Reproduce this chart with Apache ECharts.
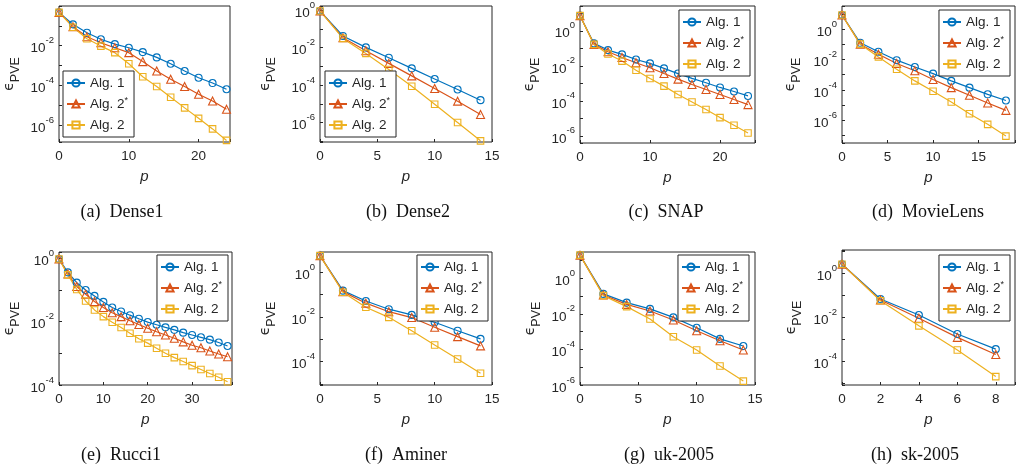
<!DOCTYPE html>
<html>
<head>
<meta charset="utf-8">
<script src="https://cdn.jsdelivr.net/npm/echarts@6/dist/echarts.min.js"></script>
<style>
  html, body { margin: 0; padding: 0; background: #fff; }
  #chart { width: 1018px; height: 471px; }
</style>
</head>
<body>
<div id="chart"></div>
<script>
// Legend names shared by every panel
const seriesNames = ['Alg. 1', 'Alg. 2*', 'Alg. 2'];

// Panel captions
const captions = ['(a)\u2002Dense1', '(b)\u2002Dense2', '(c)\u2002SNAP', '(d)\u2002MovieLens',
                  '(e)\u2002Rucci1', '(f)\u2002Aminer', '(g)\u2002uk-2005', '(h)\u2002sk-2005'];

// (a) Dense1
const pA = [0, 2, 4, 6, 8, 10, 12, 14, 16, 18, 20, 22, 24];
const alg1A = [0.47, 0.118, 0.045, 0.021, 0.012, 0.0079, 0.0048, 0.0026, 0.00125, 5.4e-4, 2.5e-4, 1.35e-4, 6.6e-5];
const alg2sA = [0.47, 0.09, 0.028, 0.014, 0.0079, 0.0045, 0.0016, 5.4e-4, 2.1e-4, 9.1e-5, 3.7e-5, 1.7e-5, 6.6e-6];
const alg2A = [0.47, 0.085, 0.0224, 0.0096, 0.0045, 0.00125, 2.8e-4, 9.1e-5, 2.6e-5, 7.7e-6, 2.3e-6, 6.8e-7, 1.8e-7];

// (b) Dense2
const pB = [0, 2, 4, 6, 8, 10, 12, 14];
const alg1B = [0.91, 0.042, 0.0103, 0.0029, 7.8e-4, 2.1e-4, 5.8e-5, 1.56e-5];
const alg2sB = [0.91, 0.034, 0.0068, 0.00144, 3.1e-4, 6.6e-5, 1.38e-5, 2.7e-6];
const alg2B = [0.91, 0.031, 0.0049, 6.8e-4, 8.7e-5, 9.5e-6, 1.0e-6, 1.05e-7];

// (c) SNAP
const pC = [0, 2, 4, 6, 8, 10, 12, 14, 16, 18, 20, 22, 24];
const alg1C = [7.3, 0.19, 0.079, 0.045, 0.023, 0.0137, 0.0071, 0.0036, 0.0019, 0.00107, 5.8e-4, 3.4e-4, 1.9e-4];
const alg2sC = [7.3, 0.167, 0.063, 0.030, 0.0149, 0.0077, 0.0036, 0.00173, 8.5e-4, 4.4e-4, 2.3e-4, 1.18e-4, 6.1e-5];
const alg2C = [7.3, 0.167, 0.047, 0.0186, 0.0056, 0.0019, 6.9e-4, 2.3e-4, 8.6e-5, 3.2e-5, 1.1e-5, 4.0e-6, 1.45e-6];

// (d) MovieLens
const pD = [0, 2, 4, 6, 8, 10, 12, 14, 16, 18];
const alg1D = [8.4, 0.125, 0.032, 0.0090, 0.0032, 0.00118, 3.9e-4, 1.4e-4, 5.1e-5, 2.0e-5];
const alg2sD = [8.4, 0.102, 0.022, 0.0054, 0.0018, 4.8e-4, 1.4e-4, 4.4e-5, 1.37e-5, 4.5e-6];
const alg2D = [8.4, 0.102, 0.0148, 0.0023, 3.9e-4, 8.1e-5, 1.6e-5, 2.7e-6, 5.4e-7, 9.1e-8];

// (e) Rucci1
const pE = [0, 2, 4, 6, 8, 10, 12, 14, 16, 18, 20, 22, 24, 26, 28, 30, 32, 34, 36, 38];
const alg1E = [0.95, 0.36, 0.17, 0.10, 0.065, 0.042, 0.028, 0.021, 0.016, 0.0124, 0.0097, 0.0080, 0.0066, 0.0055, 0.0045, 0.0038, 0.0032, 0.0027, 0.0022, 0.0017];
const alg2sE = [0.95, 0.32, 0.128, 0.073, 0.043, 0.028, 0.019, 0.0144, 0.0107, 0.0081, 0.0062, 0.0048, 0.0038, 0.0030, 0.0023, 0.0018, 0.0015, 0.00118, 9.5e-4, 7.8e-4];
const alg2E = [0.95, 0.30, 0.104, 0.045, 0.0234, 0.0144, 0.0096, 0.0065, 0.0043, 0.0029, 0.0021, 0.00144, 1.0e-3, 7.3e-4, 5.5e-4, 4.1e-4, 3.1e-4, 2.3e-4, 1.75e-4, 1.27e-4];

// (f) Aminer
const pF = [0, 2, 4, 6, 8, 10, 12, 14];
const alg1F = [5.5, 0.149, 0.051, 0.022, 0.0122, 0.0057, 0.0024, 0.00103];
const alg2sF = [5.5, 0.135, 0.041, 0.017, 0.0093, 0.0034, 0.0013, 5.0e-4];
const alg2F = [5.5, 0.126, 0.027, 0.0095, 0.0024, 5.5e-4, 1.3e-4, 3.0e-5];

// (g) uk-2005
const pG = [0, 2, 4, 6, 8, 10, 12, 14];
const alg1G = [20, 0.132, 0.043, 0.019, 0.0063, 0.00166, 3.9e-4, 1.55e-4];
const alg2sG = [20, 0.115, 0.034, 0.0145, 0.0045, 0.00113, 3.1e-4, 9.3e-5];
const alg2G = [20, 0.106, 0.0255, 0.0051, 5.2e-4, 9.3e-5, 1.17e-5, 1.66e-6];

// (h) sk-2005
const pH = [0, 2, 4, 6, 8];
const alg1H = [2.5, 0.066, 0.0124, 0.0017, 3.5e-4];
const alg2sH = [2.5, 0.059, 0.0088, 0.0012, 2.0e-4];
const alg2H = [2.5, 0.055, 0.0040, 3.2e-4, 2.0e-5];

// Axis limits per panel: x [0, max] with tick step, y log range
const xMax = [24.5, 15, 25, 19, 39, 15, 15, 9];
const xStep = [10, 5, 10, 5, 10, 5, 5, 2];
const yMin = [1.5e-7, 9.1e-8, 3.9e-7, 3.2e-8, 1e-4, 8.9e-6, 1e-6, 8.3e-6];
const yMax = [0.98, 1.67, 26, 33, 1.58, 8.0, 30, 11];

const xs = [pA, pB, pC, pD, pE, pF, pG, pH];
const ys = [
  [alg1A, alg2sA, alg2A], [alg1B, alg2sB, alg2B], [alg1C, alg2sC, alg2C], [alg1D, alg2sD, alg2D],
  [alg1E, alg2sE, alg2E], [alg1F, alg2sF, alg2F], [alg1G, alg2sG, alg2G], [alg1H, alg2sH, alg2H]
];

// Plot boxes, legend anchors, label gaps and caption centres
const layout = [
  { box: [59, 6, 171, 136],   legend: { left: 63, top: 71 },   yGap: 37, cap: [122, 212] },
  { box: [320, 6, 172, 136],  legend: { left: 325, top: 71 },  yGap: 42, cap: [408, 212] },
  { box: [580, 6, 175, 137],  legend: { right: 268, top: 10 }, yGap: 38, cap: [666, 212] },
  { box: [842, 6, 173, 137],  legend: { right: 8, top: 10 },   yGap: 39, cap: [928, 212] },
  { box: [59, 252, 173, 133], legend: { right: 790, top: 255 }, yGap: 37, cap: [121, 455] },
  { box: [320, 252, 172, 133], legend: { right: 530, top: 255 }, yGap: 42, cap: [406, 455] },
  { box: [580, 252, 175, 133], legend: { right: 269, top: 255 }, yGap: 37, cap: [669, 455] },
  { box: [842, 250, 173, 135], legend: { right: 8, top: 255 },  yGap: 38, cap: [915, 455] }
];

const colors = ['#0072BD', '#D95319', '#EDB120'];
const symbols = ['circle', 'triangle', 'rect'];
const symbolSizes = [7, 8, 6.5];
const ink = '#262626';
const sans = '"Liberation Sans", Arial, sans-serif';

function logLabel(v) {
  const e = Math.log10(v);
  const r = Math.round(e);
  if (Math.abs(e - r) > 1e-6 || r % 2 !== 0) return '';
  return '{b|10}{s|' + r + '}';
}

const grid = [], xAxis = [], yAxis = [], series = [], legend = [], graphic = [];

layout.forEach((L, i) => {
  grid.push({
    left: L.box[0], top: L.box[1], width: L.box[2], height: L.box[3],
    show: true, borderColor: ink, borderWidth: 1, backgroundColor: '#fff',
    containLabel: false, outerBoundsMode: 'none'
  });
  const step = xStep[i];
  xAxis.push({
    type: 'value', gridIndex: i, min: 0, max: xMax[i], interval: step,
    axisLine: { show: false }, splitLine: { show: false },
    axisTick: { show: true, inside: true, length: 3, lineStyle: { color: ink } },
    axisLabel: {
      margin: 7, color: ink, fontSize: 13.5, fontFamily: sans,
      formatter: v => (Math.abs(v / step - Math.round(v / step)) < 1e-9 ? String(v) : '')
    },
    name: 'p', nameLocation: 'middle', nameGap: 27,
    nameTextStyle: { color: ink, fontSize: 15, fontStyle: 'italic', fontFamily: sans }
  });
  yAxis.push({
    type: 'log', logBase: 10, gridIndex: i, min: yMin[i], max: yMax[i],
    axisLine: { show: false }, splitLine: { show: false }, minorTick: { show: false },
    axisTick: { show: true, inside: true, length: 3, lineStyle: { color: ink } },
    axisLabel: {
      margin: 5, color: ink, fontFamily: sans, formatter: logLabel,
      rich: {
        b: { fontSize: 13.5, fontFamily: sans, color: ink, lineHeight: 20, verticalAlign: 'bottom' },
        s: { fontSize: 9.5, fontFamily: sans, color: ink, lineHeight: 11, verticalAlign: 'top' }
      }
    },
    name: '{e|\u03f5}{s|PVE}', nameLocation: 'middle', nameGap: L.yGap, nameRotate: 90,
    nameTextStyle: {
      color: ink,
      rich: {
        e: { fontSize: 14, fontFamily: '"DejaVu Sans", sans-serif', color: ink, lineHeight: 20, verticalAlign: 'top' },
        s: { fontSize: 12.5, fontFamily: sans, color: ink, lineHeight: 14, verticalAlign: 'bottom' }
      }
    }
  });
  ys[i].forEach((vals, k) => {
    series.push({
      type: 'line', name: seriesNames[k], xAxisIndex: i, yAxisIndex: i,
      data: xs[i].map((p, j) => [p, vals[j]]),
      symbol: symbols[k], symbolSize: symbolSizes[k], showSymbol: true,
      lineStyle: { color: colors[k], width: 1.2 },
      itemStyle: { color: 'rgba(255,255,255,0)', borderColor: colors[k], borderWidth: 1.1 },
      emphasis: { disabled: true }, animation: false, silent: true
    });
  });
  legend.push(Object.assign({
    orient: 'vertical', data: seriesNames.slice(),
    backgroundColor: '#fff', borderColor: ink, borderWidth: 1, borderRadius: 0,
    padding: [4, 6, 4, 3], itemWidth: 18, itemHeight: 9, itemGap: 5,
    selectedMode: false,
    formatter: name => (name === 'Alg. 2*' ? 'Alg. 2{sup|*}' : name),
    textStyle: {
      color: ink, fontSize: 13.5, fontFamily: sans, lineHeight: 16,
      rich: { sup: { fontSize: 9, fontFamily: sans, color: ink, lineHeight: 10, verticalAlign: 'top' } }
    }
  }, L.legend));
  graphic.push({
    type: 'text', x: L.cap[0], y: L.cap[1], silent: true,
    style: {
      text: captions[i], fill: '#111', align: 'center', verticalAlign: 'middle',
      font: '18px "Liberation Serif", "Times New Roman", serif'
    }
  });
});

const chart = echarts.init(document.getElementById('chart'), null, { renderer: 'canvas' });
chart.setOption({
  backgroundColor: '#fff',
  animation: false,
  grid, xAxis, yAxis, series, legend, graphic
});
</script>
</body>
</html>
